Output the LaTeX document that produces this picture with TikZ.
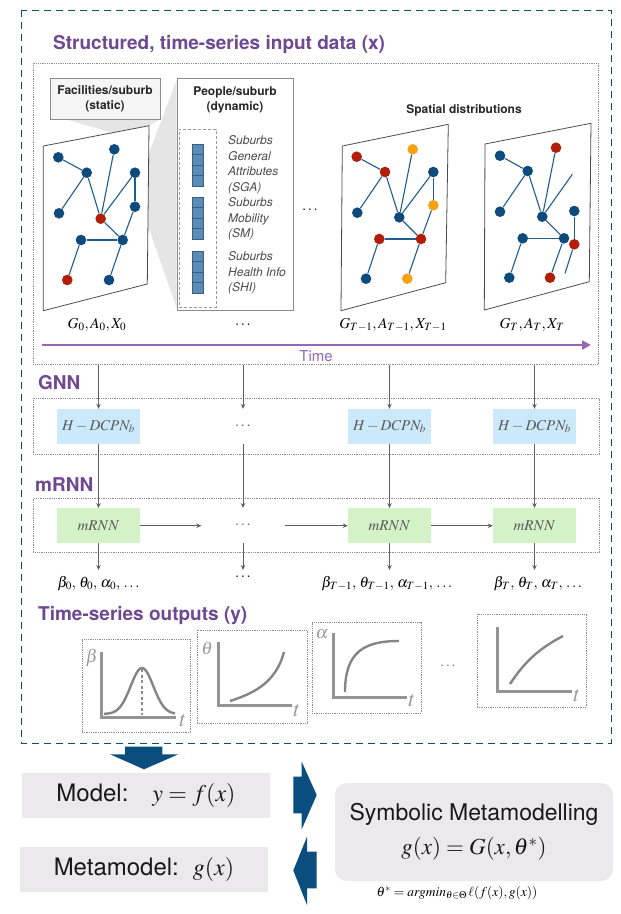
\documentclass[tikz,border=0pt]{standalone}
\usepackage{mathptmx}
\usepackage[no-math]{fontspec}
\setmainfont{TeX Gyre Heros}
\usetikzlibrary{arrows.meta}
\definecolor{ttlc}{RGB}{110,72,145}
\definecolor{timc}{RGB}{150,102,178}
\definecolor{dblue}{RGB}{10,78,128}
\definecolor{nblue}{RGB}{14,74,124}
\definecolor{nred}{RGB}{178,30,10}
\definecolor{norange}{RGB}{246,162,16}
\definecolor{eblue}{RGB}{32,93,143}
\definecolor{barb}{RGB}{91,140,183}
\definecolor{barl}{RGB}{55,95,130}
\definecolor{hfill}{RGB}{204,233,251}
\definecolor{mfill}{RGB}{212,242,200}
\definecolor{lavc}{RGB}{235,232,238}
\definecolor{wedgec}{RGB}{229,229,229}
\tikzset{
 ttl/.style={font=\fontsize{19}{22}\selectfont\bfseries, text=ttlc, inner sep=0pt},
 dotbox/.style={draw=black!45, line width=0.6pt, dash pattern=on 0.8pt off 1pt, inner sep=0pt},
 panel/.style={draw=black!70, fill=white, line width=0.8pt},
 bn/.style={circle, fill=nblue, inner sep=0pt, minimum size=10.6pt},
 rn/.style={bn, fill=nred},
 orn/.style={bn, fill=norange},
 nedge/.style={draw=eblue, line width=1.1pt},
 bold12/.style={font=\fontsize{12}{15}\selectfont\bfseries, text=black!85, align=center, inner sep=0pt},
 itl/.style={font=\fontsize{12}{15.5}\selectfont\itshape, text=black!70, align=left, anchor=west, inner sep=0pt},
 mlab/.style={font=\fontsize{15}{17}\selectfont, inner sep=0pt},
 hbox/.style={fill=hfill, minimum width=83pt, minimum height=35pt, inner sep=0pt, font=\fontsize{15}{18}\selectfont, text=black!65},
 mbox/.style={hbox, fill=mfill},
 ghost/.style={minimum width=83pt, minimum height=35pt, inner sep=0pt, font=\fontsize{15}{18}\selectfont, text=black!65},
 arr/.style={draw=black!62, line width=0.8pt, -{Stealth[length=5pt,width=4.5pt]}},
 olab/.style={font=\fontsize{15}{17}\selectfont, anchor=north, inner xsep=0pt, inner ysep=6pt},
 axline/.style={draw=black!42, line width=3pt},
 crv/.style={draw=black!48, line width=2.4pt},
 plab/.style={font=\fontsize{18}{20}\selectfont, text=black!40, inner sep=0pt},
 tlab/.style={font=\fontsize{22}{24}\selectfont, text=black!40, inner sep=0pt},
 lbox/.style={fill=lavc, inner sep=0pt, font=\fontsize{24}{28}\selectfont, text=black!90},
}
\begin{document}
\begin{tikzpicture}[x=1pt,y=-1pt]
\useasboundingbox (0,0) rectangle (621,914);
% outer dashed frame
\draw[dblue, line width=1pt, dash pattern=on 7pt off 5pt] (21,10) rectangle (611,743);
\node[ttl, anchor=west] (title) at (53,44) {Structured, time-series input data (x)};
\node[dotbox, minimum width=565pt, minimum height=301pt, anchor=north west] (inbox) at (33,63) {};

% callout wedges
\fill[wedgec] (66,119.3) -- (160,119.3) -- (149,125.7) -- (113,133) -- cycle;
\fill[wedgec] (176.7,80) -- (148.3,155) -- (146.7,222) -- (176.7,308.3) -- cycle;

% boxes
\node[draw=black!45, fill=black!4, minimum width=110pt, minimum height=41pt, bold12] (fac) at (105,98.7) {Facilities/suburb\\(static)};
\node[draw=black!45, fill=white, minimum width=116pt, minimum height=232pt, inner sep=0pt] (pbox) at (235,194) {};
\node[bold12] (ptitle) at (235,99.5) {People/suburb\\(dynamic)};
\node[draw=black!40, dash pattern=on 3pt off 2pt, minimum width=37pt, minimum height=178pt, inner sep=0pt] (dbox) at (197.5,218) {};
\foreach \t in {144,197,251}{
  \draw[draw=barl, fill=barb, line width=0.6pt] (192,\t) rectangle (203,{\t+42});
  \foreach \k in {1,2,3} \draw[barl, line width=0.6pt] (192,{\t+10.5*\k}) -- (203,{\t+10.5*\k});
}
\node[itl] (sga) at (228,165) {Suburbs\\General\\Attributes\\(SGA)};
\node[itl] (sm) at (228,219) {Suburbs\\Mobility\\(SM)};
\node[itl] (shi) at (228,273) {Suburbs\\Health Info\\(SHI)};
\node[mlab] (mdots) at (310,210) {$\cdots$};
\node[bold12] (spd) at (464,110) {Spatial distributions};

% panel 1
\draw[panel] (43.3,146) -- (149,125.7) -- (147.3,284) -- (43.3,310.7) -- cycle;
\node[bn] (p1a) at (58.3,157.3) {};
\node[bn] (p1b) at (114.3,149.3) {};
\node[bn] (p1c) at (86.7,172.7) {};
\node[bn] (p1d) at (135,172.7) {};
\node[bn] (p1e) at (59,213.3) {};
\node[rn] (p1f) at (100.7,218.7) {};
\node[bn] (p1g) at (135,206.7) {};
\node[bn] (p1h) at (81,240) {};
\node[bn] (p1i) at (122.7,240) {};
\node[rn] (p1j) at (67.3,280) {};
\node[bn] (p1k) at (109,280) {};
\foreach \u/\v in {a/c,c/e,c/f,b/f,d/f,d/g,g/i,f/i,h/i,h/j,i/k} \draw[nedge] (p1\u) -- (p1\v);

% panel T-1
\draw[panel] (342.3,146) -- (448.3,124.3) -- (445.7,282.7) -- (341,310.7) -- cycle;
\node[rn] (p2a) at (356.7,156.7) {};
\node[orn] (p2b) at (412.7,149.3) {};
\node[rn] (p2c) at (385,172) {};
\node[bn] (p2d) at (433.3,172) {};
\node[bn] (p2e) at (357.3,212.7) {};
\node[bn] (p2f) at (399.3,217.3) {};
\node[orn] (p2g) at (433.3,205.3) {};
\node[rn] (p2h) at (379.3,239) {};
\node[rn] (p2i) at (421,239) {};
\node[bn] (p2j) at (366,278.7) {};
\node[orn] (p2k) at (407.3,278.7) {};
\foreach \u/\v in {a/c,c/e,c/f,b/f,d/f,d/g,g/i,f/i,h/i,h/j,i/k} \draw[nedge] (p2\u) -- (p2\v);

% panel T
\draw[panel] (485,144) -- (591,123.3) -- (589.3,281.7) -- (484.3,310) -- cycle;
\node[bn] (p3a) at (500,155.7) {};
\node[rn] (p3b) at (556,147.7) {};
\node[bn] (p3c) at (527.7,171) {};
\node[bn] (p3e) at (500,211.7) {};
\node[bn] (p3f) at (542.3,216.7) {};
\node[bn] (p3g) at (574.3,211) {};
\node[bn] (p3h) at (522.7,238.3) {};
\node[bn] (p3i) at (564,238.3) {};
\node[bn] (p3j) at (509.3,277.7) {};
\node[rn] (p3l) at (574.3,244.3) {};
\node[rn] (p3k) at (550,277.7) {};
\coordinate (p3x) at (572.3,174.3);
\coordinate (p3y) at (565,273.3);
\foreach \u/\v in {a/c,c/e,c/f,b/f,f/i,h/i,h/j,g/l,i/k} \draw[nedge] (p3\u) -- (p3\v);
\draw[nedge] (p3f) -- (p3x);
\draw[nedge] (p3l) -- (p3y);

% labels under panels
\node[mlab] (lab0) at (97,325) {$G_0, A_0, X_0$};
\node[mlab] (lab1) at (243,325) {$\ldots$};
\node[mlab] (lab2) at (393,325) {$G_{T-1}, A_{T-1}, X_{T-1}$};
\node[mlab] (lab3) at (532,325) {$G_T, A_T, X_T$};

% time arrow
\coordinate (tstart) at (42,345);
\coordinate (tend) at (591,345);
\draw[timc, line width=2.8pt, -{Triangle[length=9pt,width=9pt]}] (tstart) -- (tend);
\node[text=timc, font=\fontsize{15}{18}\selectfont, inner sep=0pt] (time) at (316,356) {Time};

% GNN
\node[ttl, anchor=west] (gnnl) at (38,383) {GNN};
\node[dotbox, minimum width=566pt, minimum height=56pt, anchor=north west] (gnnbox) at (33,398) {};
\node[hbox] (h1) at (98.5,426.5) {$H-DCPN_b$};
\node[ghost] (h2) at (243,426.5) {$\cdots$};
\node[hbox] (h3) at (389.5,426.5) {$H-DCPN_b$};
\node[hbox] (h4) at (534.5,426.5) {$H-DCPN_b$};

% mRNN
\node[ttl, anchor=west] (mrl) at (35,485) {mRNN};
\node[dotbox, minimum width=566pt, minimum height=54pt, anchor=north west] (mbox) at (33,498) {};
\node[mbox] (m1) at (98.5,525.7) {$mRNN$};
\node[ghost] (m2) at (243,525.7) {$\cdots$};
\node[mbox] (m3) at (389.5,525.7) {$mRNN$};
\node[mbox] (m4) at (534.5,525.7) {$mRNN$};

\foreach \c in {1,2,3,4}{
  \draw[arr] (h\c |- inbox.south) -- (h\c);
  \draw[arr] (h\c) -- (m\c);
}
\draw[arr] (m1) -- (m2);
\draw[arr] (m2) -- (m3);
\draw[arr] (m3) -- (m4);

% outputs labels
\node[olab] (o1) at (98.5,570) {${\beta}_0,\, {\theta}_0,\, {\alpha}_0,\, \ldots$};
\node[olab] (o2) at (243,570) {$\ldots$};
\node[olab] (o3) at (387,570) {${\beta}_{T-1},\, {\theta}_{T-1},\, {\alpha}_{T-1},\, \ldots$};
\node[olab] (o4) at (538,570) {${\beta}_T,\, {\theta}_T,\, {\alpha}_T,\, \ldots$};
\foreach \c in {1,2,3,4} \draw[arr] (m\c) -- (m\c |- o\c.north);

% time-series outputs
\node[ttl, anchor=west] (outl) at (38,615) {Time-series outputs (y)};
\node[dotbox, minimum width=108pt, minimum height=93pt] (pb1) at (136,685.5) {};
\node[dotbox, minimum width=110pt, minimum height=93pt] (pb2) at (252,676.5) {};
\node[dotbox, minimum width=109pt, minimum height=91pt] (pb3) at (366.5,667.5) {};
\node[dotbox, minimum width=109pt, minimum height=93pt] (pb4) at (531.5,660.5) {};
\draw[axline] (101,652) -- (101,717) -- (176,717);
\draw[crv] plot[domain=104:175, samples=60, smooth] (\x, {714-46*exp(-((\x-142)/16)^2)});
\draw[black!45, line width=1.6pt, dash pattern=on 3pt off 2.5pt] (142,669) -- (142,715);
\draw[axline] (218,642) -- (218,705) -- (292,705);
\draw[crv] (230,701) .. controls (255,693) and (276,682) .. (284,652);
\draw[axline] (333,633) -- (333,697) -- (407,697);
\draw[crv] (345,692) .. controls (345,652) and (364,641) .. (399,641);
\draw[axline] (497,627) -- (497,691) -- (572,691);
\draw[crv] (510,684) .. controls (525,661) and (540,648) .. (563,636);
\node[plab] (lb1) at (92,658) {$\beta$};
\node[tlab] (lt1) at (183,721) {$t$};
\node[plab] (lb2) at (207,648) {$\theta$};
\node[tlab] (lt2) at (297,711) {$t$};
\node[plab] (lb3) at (322,634) {$\alpha$};
\node[tlab] (lt3) at (412,701) {$t$};
\node[tlab] (lt4) at (577,696) {$t$};
\node[mlab, text=black!50] (pdots) at (448,666) {$\cdots$};

% bottom part
\fill[dblue] (125,746.7) -- (162.3,746.7) -- (162.3,754.3) -- (178.3,754.3) -- (144,769.3) -- (110,754.3) -- (125,754.3) -- cycle;
\node[lbox, minimum width=248pt, minimum height=45pt] (model) at (146,795.5) {Model:\hspace{24pt}$y=f(x)$};
\node[lbox, minimum width=248pt, minimum height=45pt] (meta) at (144,869.5) {Metamodel:\hspace{14pt}$g(x)$};
\node[lbox, rounded corners=12pt, minimum width=278pt, minimum height=98pt, align=center, font=\fontsize{23}{34}\selectfont] (sym) at (474,832) {Symbolic Metamodelling\\$g(x) = G(x,\theta^*)$};
\node[font=\fontsize{13.5}{15}\selectfont, inner sep=0pt] (thf) at (457,893) {$\theta^* = argmin_{\theta\in\Theta}\,\ell(f(x),g(x))$};
\fill[dblue] (293.3,776.7) -- (301.7,776.7) -- (301.7,761.7) -- (316.7,795) -- (301.7,829.3) -- (301.7,813.3) -- (293.3,813.3) -- cycle;
\fill[dblue] (316.7,851.7) -- (307,851.7) -- (307,836.7) -- (293.3,870.5) -- (307,905) -- (307,888.3) -- (316.7,888.3) -- cycle;
\end{tikzpicture}
\end{document}
